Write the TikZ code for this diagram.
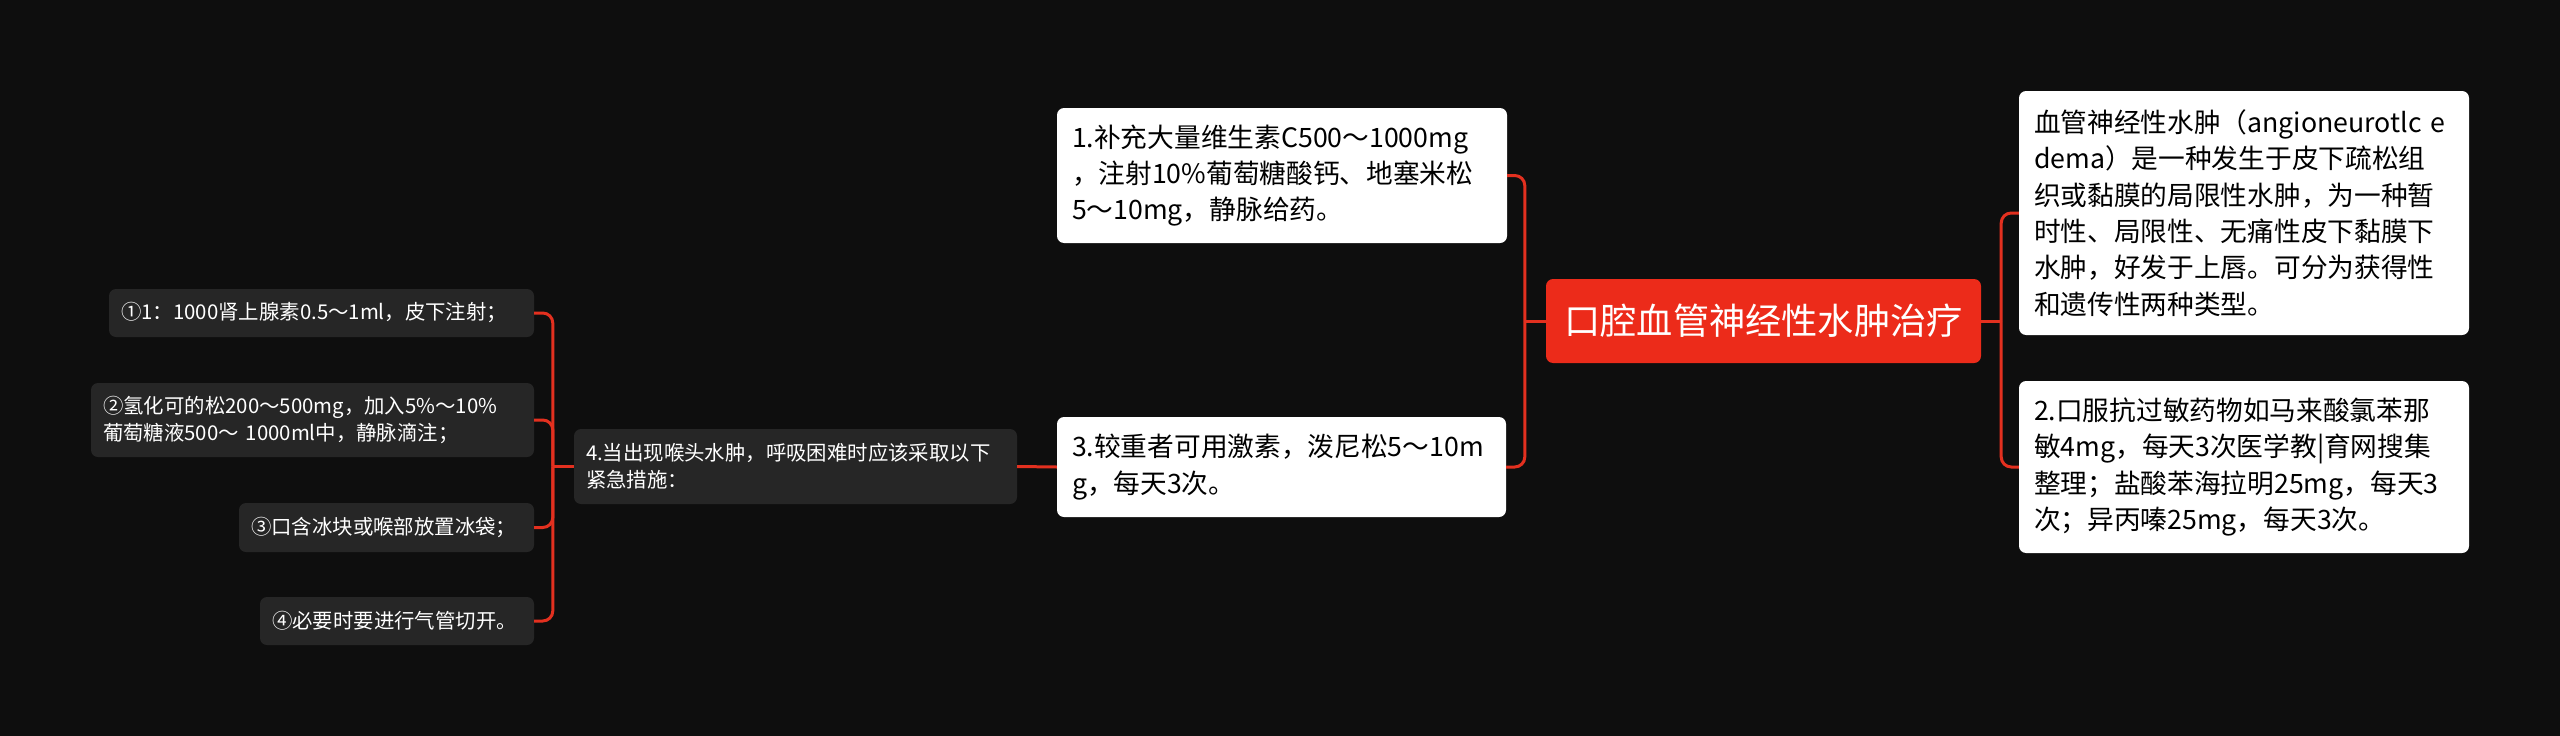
\documentclass[tikz,border=0pt]{standalone}
\usepackage{fontspec}
\setmainfont{Noto Sans CJK SC}
\usetikzlibrary{calc}
\definecolor{bgcol}{HTML}{0E0E0E}
\definecolor{linkred}{HTML}{E3301F}
\definecolor{rootred}{HTML}{EC2B1A}
\definecolor{darkfill}{HTML}{262626}

\begin{document}
\begin{tikzpicture}[x=1pt, y=-1pt,
        link/.style={draw=linkred, line width=3pt},
        elbow/.style={link, rounded corners=10pt},
        rootbox/.style={fill=rootred, rounded corners=7pt, text=white, inner sep=0pt, align=center, font=\fontsize{36.2}{44}\selectfont},
        whitebox/.style={fill=white, rounded corners=7pt, text=black, inner sep=0pt, align=left, font=\fontsize{26.7}{36.4}\selectfont},
        darkbox/.style={fill=darkfill, rounded corners=7pt, text=white, inner sep=0pt, align=left, font=\fontsize{20.4}{27}\selectfont}]
        \fill[bgcol] (0, 0) rectangle (2560, 736);
        \useasboundingbox (0, 0) rectangle (2560, 736);

        % centre
        \node[rootbox, minimum width=435pt, minimum height=84pt] (root) at (1763.5, 321) {口腔血管神经性水肿治疗};

        % right side
        \node[whitebox, minimum width=450pt, minimum height=244pt, text width=420pt] (defn) at (2244, 213) {血管神经性水肿（angioneurotlc e\\dema）是一种发生于皮下疏松组\\织或黏膜的局限性水肿，为一种暂\\时性、局限性、无痛性皮下黏膜下\\水肿，好发于上唇。可分为获得性\\和遗传性两种类型。};
        \node[whitebox, minimum width=450pt, minimum height=172pt, text width=420pt] (oral) at (2244, 467) {2.口服抗过敏药物如马来酸氯苯那\\敏4mg，每天3次医学教|育网搜集\\整理；盐酸苯海拉明25mg，每天3\\次；异丙嗪25mg，每天3次。};

        % left side
        \node[whitebox, minimum width=450pt, minimum height=135pt, text width=420pt] (vitc) at (1282, 175.5) {1.补充大量维生素C500～1000mg\\，注射10\%葡萄糖酸钙、地塞米松\\5～10mg，静脉给药。};
        \node[whitebox, minimum width=449pt, minimum height=100pt, text width=419pt] (horm) at (1281.5, 467) {3.较重者可用激素，泼尼松5～10m\\g，每天3次。};
        \node[darkbox, minimum width=443pt, minimum height=75pt, text width=419pt] (larynx) at (795.5, 466.5) {4.当出现喉头水肿，呼吸困难时应该采取以下\\紧急措施：};

        % emergency steps
        \node[darkbox, minimum width=425pt, minimum height=48pt, text width=401pt] (stepa) at (321.5, 313) {①1：1000肾上腺素0.5～1ml，皮下注射；};
        \node[darkbox, minimum width=443pt, minimum height=74pt, text width=419pt] (stepb) at (312.5, 420) {②氢化可的松200～500mg，加入5\%～10\%\\葡萄糖液500～ 1000ml中，静脉滴注；};
        \node[darkbox, minimum width=295pt, minimum height=49pt, text width=271pt] (stepc) at (386.5, 527.5) {③口含冰块或喉部放置冰袋；};
        \node[darkbox, minimum width=274pt, minimum height=48pt, text width=250pt] (stepd) at (397, 621) {④必要时要进行气管切开。};

        % connectors
        \coordinate (rj) at ($(root.east) + (20, 0)$);
        \coordinate (lj) at ($(root.west) + (-21, 0)$);
        \coordinate (sj) at ($(larynx.west) + (-21, 0)$);
        \draw[link] (root.east) -- (rj);
        \draw[elbow] (rj) |- (defn.west);
        \draw[elbow] (rj) |- (oral.west);
        \draw[link] (root.west) -- (lj);
        \draw[elbow] (lj) |- (vitc.east);
        \draw[elbow] (lj) |- (horm.east);
        \draw[link] (horm.west) -- (larynx.east);
        \draw[link] (larynx.west) -- (sj);
        \foreach \s in {stepa, stepb, stepc, stepd}
            \draw[elbow] (sj) |- (\s.east);
    \end{tikzpicture}
\end{document}
